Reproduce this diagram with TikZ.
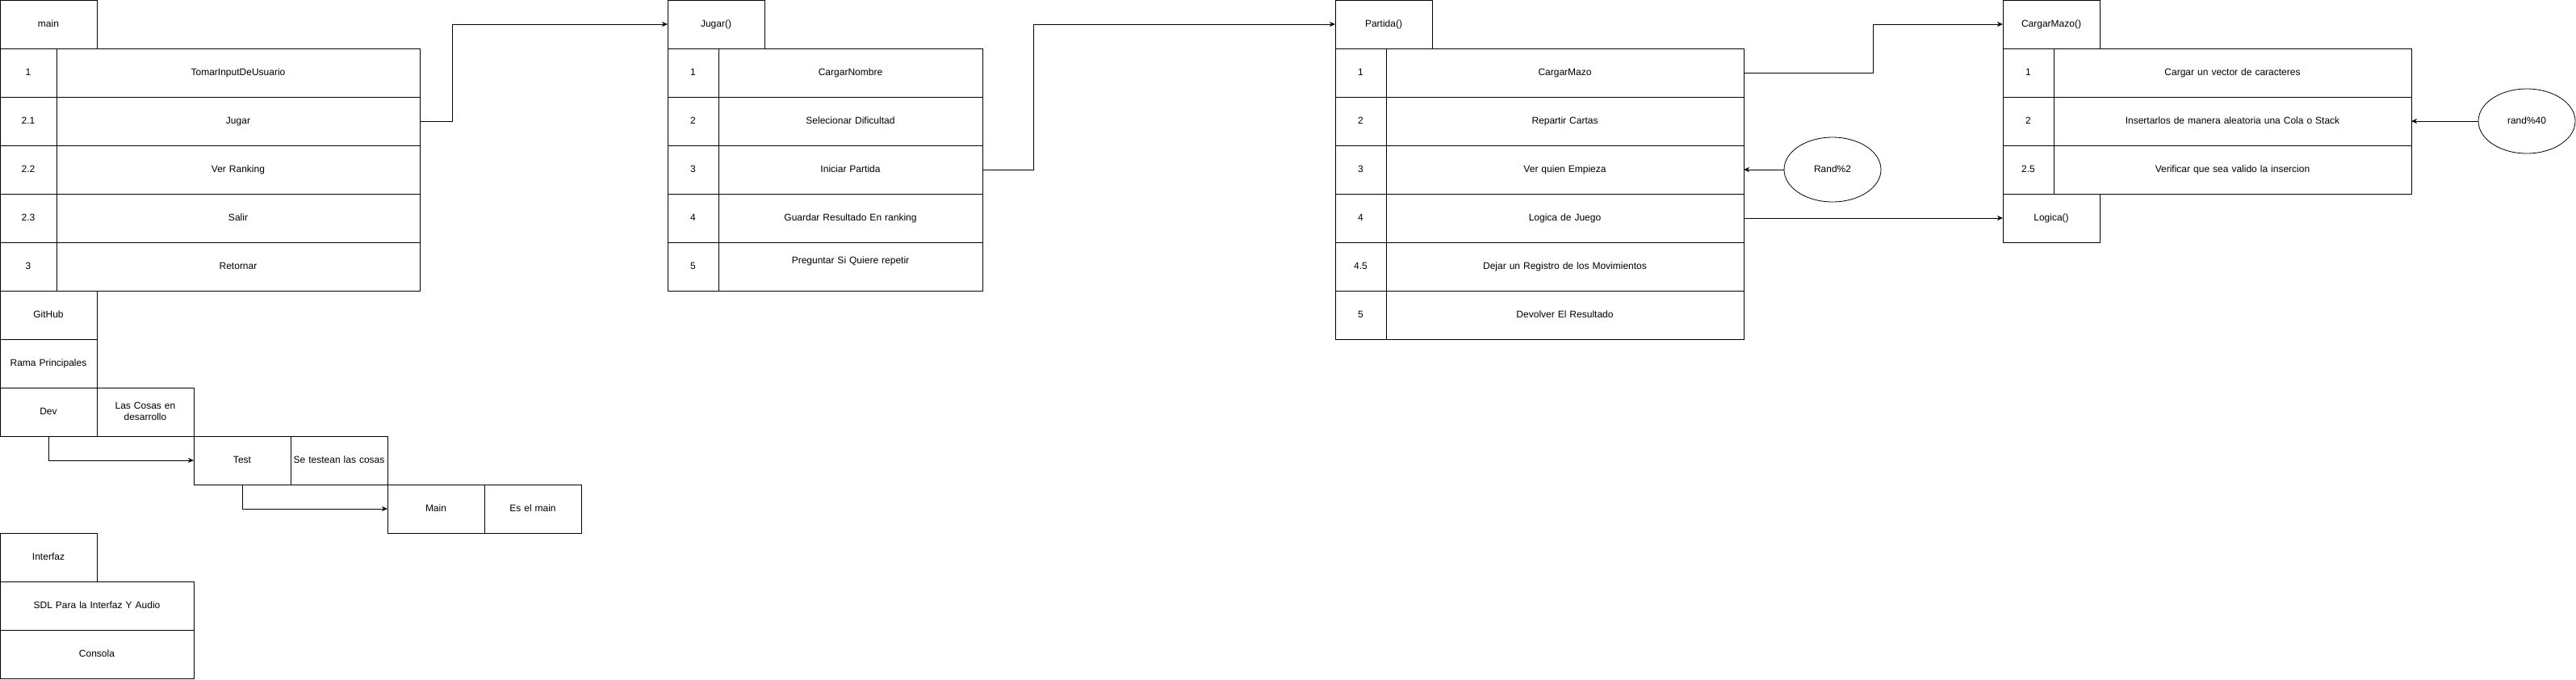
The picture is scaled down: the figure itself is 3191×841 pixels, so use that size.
\documentclass[tikz,border=0pt]{standalone}
\usepackage{fontspec}
\setmainfont{Liberation Sans}
\usetikzlibrary{arrows.meta,shapes.geometric}
\tikzset{
  cell/.style={draw=black, line width=1pt, rectangle, anchor=north west, inner sep=2pt, outer sep=0pt,
    minimum height=60pt, align=center, text height=8.5pt, text depth=2.5pt,
    font=\fontsize{12}{14}\selectfont},
  hd/.style={cell, minimum width=120pt, text width=114pt},
  num/.style={cell, minimum width=#1, text width=#1-6pt},
  txt/.style={cell, minimum width=#1, text width=#1-6pt},
  oval/.style={draw=black, line width=0.8pt, ellipse, minimum width=120pt, minimum height=80pt,
    inner sep=0pt, outer sep=0pt, text height=8.5pt, text depth=2.5pt, font=\fontsize{12}{14}\selectfont},
  conn/.style={draw=black, line width=1pt, -{Stealth[length=7pt,width=6pt,inset=2pt]}}
}
\begin{document}
\begin{tikzpicture}[x=1pt,y=-1pt]
\useasboundingbox (0,0) rectangle (3191,841);
% ---------- main ----------
\node[hd] (mainh) at (0,0) {main};
\node[num=70pt] (m1n) at (0,60) {1};
\node[txt=450pt] (m1t) at (70,60) {TomarInputDeUsuario};
\node[num=70pt] (m2n) at (0,120) {2.1};
\node[txt=450pt] (m2t) at (70,120) {Jugar};
\node[num=70pt] (m3n) at (0,180) {2.2};
\node[txt=450pt] (m3t) at (70,180) {Ver Ranking};
\node[num=70pt] (m4n) at (0,240) {2.3};
\node[txt=450pt] (m4t) at (70,240) {Salir};
\node[num=70pt] (m5n) at (0,300) {3};
\node[txt=450pt] (m5t) at (70,300) {Retornar};
% ---------- GitHub ----------
\node[hd] (gh) at (0,360) {GitHub};
\node[hd] (rama) at (0,420) {Rama Principales};
\node[hd] (dev) at (0,480) {Dev};
\node[hd, text depth=16.5pt] (devd) at (120,480) {Las Cosas en\\desarrollo};
\node[hd] (test) at (240,540) {Test};
\node[hd] (testd) at (360,540) {Se testean las cosas};
\node[hd] (mainb) at (480,600) {Main};
\node[hd] (mainbd) at (600,600) {Es el main};
% ---------- Interfaz ----------
\node[hd] (inter) at (0,660) {Interfaz};
\node[txt=240pt] (sdl) at (0,720) {SDL Para la Interfaz Y Audio};
\node[txt=240pt] (cons) at (0,780) {Consola};
% ---------- Jugar() ----------
\node[hd] (jh) at (827,0) {Jugar()};
\node[num=63pt] (j1n) at (827,60) {1};
\node[txt=327pt] (j1t) at (890,60) {CargarNombre};
\node[num=63pt] (j2n) at (827,120) {2};
\node[txt=327pt] (j2t) at (890,120) {Selecionar Dificultad};
\node[num=63pt] (j3n) at (827,180) {3};
\node[txt=327pt] (j3t) at (890,180) {Iniciar Partida};
\node[num=63pt] (j4n) at (827,240) {4};
\node[txt=327pt] (j4t) at (890,240) {Guardar Resultado En ranking};
\node[num=63pt] (j5n) at (827,300) {5};
\node[txt=327pt, text depth=16.5pt] (j5t) at (890,300) {Preguntar Si Quiere repetir};
% ---------- Partida() ----------
\node[hd] (ph) at (1654,0) {Partida()};
\node[num=63pt] (p1n) at (1654,60) {1};
\node[txt=443pt] (p1t) at (1717,60) {CargarMazo};
\node[num=63pt] (p2n) at (1654,120) {2};
\node[txt=443pt] (p2t) at (1717,120) {Repartir Cartas};
\node[num=63pt] (p3n) at (1654,180) {3};
\node[txt=443pt] (p3t) at (1717,180) {Ver quien Empieza};
\node[num=63pt] (p4n) at (1654,240) {4};
\node[txt=443pt] (p4t) at (1717,240) {Logica de Juego};
\node[num=63pt] (p5n) at (1654,300) {4.5};
\node[txt=443pt] (p5t) at (1717,300) {Dejar un Registro de los Movimientos};
\node[num=63pt] (p6n) at (1654,360) {5};
\node[txt=443pt] (p6t) at (1717,360) {Devolver El Resultado};
% ---------- CargarMazo() ----------
\node[hd] (ch) at (2481,0) {CargarMazo()};
\node[num=63pt] (c1n) at (2481,60) {1};
\node[txt=443pt] (c1t) at (2544,60) {Cargar un vector de caracteres};
\node[num=63pt] (c2n) at (2481,120) {2};
\node[txt=443pt] (c2t) at (2544,120) {Insertarlos de manera aleatoria una Cola o Stack};
\node[num=63pt] (c3n) at (2481,180) {2.5};
\node[txt=443pt] (c3t) at (2544,180) {Verificar que sea valido la insercion};
\node[hd] (logica) at (2481,240) {Logica()};
% ---------- ellipses ----------
\node[oval] (rand2) at (2270,210) {Rand\%2};
\node[oval] (rand40) at (3130,150) {rand\%40};
% ---------- connectors ----------
\draw[conn] (m2t.east) -- (560,150) -- (560,30) -- (jh.west);
\draw[conn] (j3t.east) -- (1280,210) -- (1280,30) -- (ph.west);
\draw[conn] (p1t.east) -- (2320,90) -- (2320,30) -- (ch.west);
\draw[conn] (rand2.west) -- (p3t.east);
\draw[conn] (p4t.east) -- (logica.west);
\draw[conn] (rand40.west) -- (c2t.east);
\draw[conn] (dev.south) |- (test.west);
\draw[conn] (test.south) |- (mainb.west);
\end{tikzpicture}
\end{document}
